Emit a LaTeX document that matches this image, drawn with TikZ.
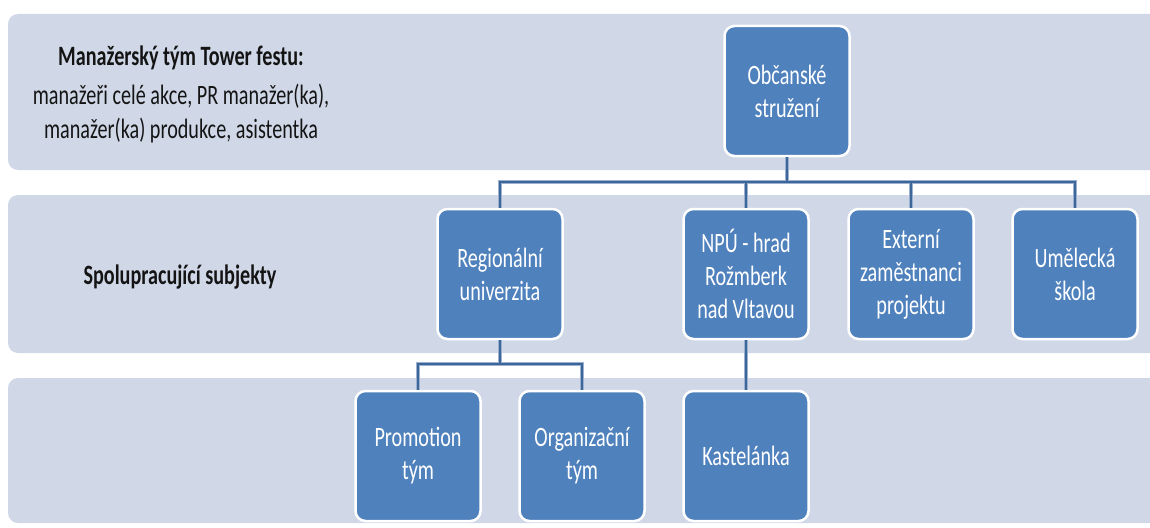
\documentclass[tikz,border=0pt]{standalone}
\usepackage{fontspec}
\setmainfont{Carlito}[FakeStretch=0.72]
\definecolor{bandfill}{HTML}{D0D8E8}
\definecolor{boxfill}{HTML}{4F81BD}
\definecolor{conndark}{HTML}{3D6699}
\definecolor{connlight}{HTML}{9CB1D1}
\definecolor{txt}{HTML}{141414}
\tikzset{
  band/.style={fill=bandfill, draw=none, rounded corners=10pt},
  orgbox/.style={rectangle, rounded corners=10pt, fill=boxfill, draw=white, line width=2.5pt,
    minimum width=125pt, minimum height=130pt, text=white, align=center,
    font=\fontsize{28}{33}\selectfont, inner sep=2pt},
  lefttxt/.style={text=txt, align=center, inner sep=0pt},
  connlo/.style={draw=connlight, line width=4.5pt},
  connhi/.style={draw=conndark, line width=2.8pt},
}
\begin{document}
\begin{tikzpicture}[x=1pt,y=-1pt]
\useasboundingbox (0,0) rectangle (1150,527);
\fill[white] (0,0) rectangle (1150,527);
% bands
\path[band] (8,14) rectangle (1175,170);
\path[band] (8,195) rectangle (1175,353);
\path[band] (8,378) rectangle (1175,523);
% left texts
\node[lefttxt, font=\bfseries\fontsize{28}{30}\selectfont] (title) at (181,58) {Manažerský tým Tower festu:};
\node[lefttxt, font=\fontsize{28}{34}\selectfont] (desc) at (181,114) {manažeři celé akce, PR manažer(ka),\\manažer(ka) produkce, asistentka};
\node[lefttxt, font=\bfseries\fontsize{28}{30}\selectfont] (spol) at (180,277) {Spolupracující subjekty};
% boxes
\node[orgbox] (obc) at (787,91) {Občanské\\stružení};
\node[orgbox] (reg) at (500,274) {Regionální\\univerzita};
\node[orgbox] (npu) at (746,274) {NPÚ - hrad\\Rožmberk\\nad Vltavou};
\node[orgbox] (ext) at (911,274) {Externí\\zaměstnanci\\projektu};
\node[orgbox] (ume) at (1075,274) {Umělecká\\škola};
\node[orgbox] (prom) at (418,456) {Promotion\\tým};
\node[orgbox] (orgt) at (582,456) {Organizační\\tým};
\node[orgbox] (kast) at (746,456) {Kastelánka};
% connector junctions
\coordinate (b1) at (787,182);
\coordinate (b2) at (500,364);
% connectors (light halo, then dark line)
\foreach \s/\o in {connlo/0, connhi/1}{
  \draw[\s, yshift=-\o pt] (obc.south) -- (b1);
  \draw[\s, yshift=-\o pt] (b1) -| (reg.north);
  \draw[\s, yshift=-\o pt] (b1) -| (npu.north);
  \draw[\s, yshift=-\o pt] (b1) -| (ext.north);
  \draw[\s, yshift=-\o pt] (b1) -| (ume.north);
  \draw[\s, yshift=-\o pt] (reg.south) -- (b2);
  \draw[\s, yshift=-\o pt] (b2) -| (prom.north);
  \draw[\s, yshift=-\o pt] (b2) -| (orgt.north);
  \draw[\s, yshift=-\o pt] (npu.south) -- (kast.north);
}
\end{tikzpicture}
\end{document}
